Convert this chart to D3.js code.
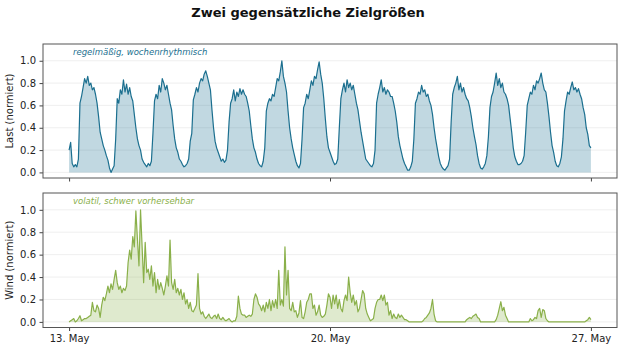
<!DOCTYPE html>
<html><head><meta charset="utf-8">
<script src="https://cdn.jsdelivr.net/npm/d3@7"></script>
<style>body{margin:0;background:#fff}svg{display:block;font-family:"DejaVu Sans",sans-serif}</style>
</head><body><svg id="c" width="624" height="351"></svg>
<script>
const title = "Zwei gegensätzliche Zielgrößen";
const startDate = "2024-05-13T00:00:00";
const xTickDates = ["2024-05-13", "2024-05-20", "2024-05-27"];
const xTickLabels = ["13. May", "20. May", "27. May"];
const yTicks = [0, 0.2, 0.4, 0.6, 0.8, 1.0];
const loadLabel = "Last (normiert)";
const windLabel = "Wind (normiert)";
const loadNote = "regelmäßig, wochenrhythmisch";
const windNote = "volatil, schwer vorhersehbar";

// hourly values, 13 May 00:00 .. 27 May 00:00
const loadValues = [
 0.20,0.27,0.08,0.05,0.07,0.05,0.12,0.62,0.68,0.76,0.84,0.80,0.86,0.78,0.80,0.74,0.76,0.70,0.62,0.50,0.36,0.30,0.24,0.20,
 0.15,0.11,0.04,0.00,0.03,0.06,0.30,0.66,0.62,0.74,0.70,0.83,0.72,0.79,0.70,0.76,0.68,0.64,0.52,0.40,0.30,0.24,0.20,0.12,
 0.09,0.07,0.05,0.08,0.06,0.10,0.35,0.64,0.70,0.66,0.78,0.72,0.84,0.80,0.74,0.78,0.70,0.62,0.56,0.42,0.30,0.22,0.18,0.12,
 0.10,0.07,0.05,0.06,0.08,0.12,0.28,0.35,0.65,0.70,0.76,0.72,0.80,0.84,0.82,0.88,0.91,0.86,0.80,0.74,0.56,0.40,0.28,0.22,
 0.18,0.14,0.10,0.12,0.09,0.11,0.20,0.45,0.62,0.66,0.74,0.64,0.72,0.68,0.75,0.70,0.74,0.70,0.68,0.62,0.55,0.42,0.30,0.22,
 0.18,0.12,0.08,0.06,0.05,0.10,0.22,0.55,0.62,0.66,0.64,0.70,0.68,0.76,0.84,0.82,0.90,1.00,0.86,0.80,0.72,0.55,0.40,0.30,
 0.22,0.16,0.10,0.06,0.04,0.08,0.30,0.58,0.62,0.70,0.66,0.74,0.82,0.78,0.86,0.84,0.92,0.99,0.88,0.80,0.66,0.48,0.32,0.22,
 0.18,0.14,0.10,0.07,0.08,0.12,0.40,0.66,0.74,0.80,0.72,0.83,0.76,0.80,0.74,0.78,0.70,0.62,0.56,0.46,0.36,0.28,0.20,0.12,
 0.10,0.08,0.06,0.05,0.08,0.20,0.62,0.70,0.76,0.83,0.72,0.76,0.70,0.74,0.72,0.68,0.68,0.62,0.55,0.45,0.32,0.24,0.18,0.12,
 0.08,0.05,0.02,0.02,0.05,0.10,0.30,0.62,0.66,0.72,0.70,0.78,0.72,0.74,0.68,0.70,0.64,0.60,0.52,0.40,0.30,0.22,0.14,0.08,
 0.05,0.03,0.02,0.04,0.06,0.12,0.45,0.70,0.76,0.80,0.86,0.74,0.80,0.72,0.76,0.70,0.66,0.64,0.58,0.50,0.40,0.32,0.25,0.15,
 0.08,0.04,0.03,0.05,0.08,0.15,0.32,0.58,0.68,0.72,0.80,0.89,0.78,0.84,0.76,0.80,0.72,0.70,0.66,0.60,0.48,0.36,0.22,0.14,
 0.10,0.07,0.07,0.08,0.10,0.15,0.36,0.60,0.66,0.72,0.70,0.78,0.74,0.82,0.80,0.84,0.89,0.80,0.74,0.72,0.62,0.50,0.36,0.24,
 0.18,0.10,0.06,0.05,0.08,0.14,0.30,0.55,0.64,0.72,0.70,0.76,0.81,0.74,0.76,0.72,0.75,0.70,0.66,0.58,0.52,0.40,0.34,0.24,
 0.22
];
const windValues = [
 0.00,0.01,0.02,0.03,0.00,0.01,0.03,0.055,0.01,0.02,0.03,0.03,0.04,0.05,0.06,0.175,0.10,0.09,0.15,0.12,0.04,0.15,0.22,0.19,
 0.25,0.32,0.26,0.34,0.29,0.38,0.46,0.35,0.29,0.32,0.26,0.30,0.28,0.32,0.53,0.64,0.56,0.76,0.67,0.99,0.74,0.50,1.00,0.68,
 0.35,0.71,0.44,0.47,0.38,0.50,0.32,0.44,0.26,0.38,0.29,0.35,0.30,0.24,0.32,0.41,0.32,0.73,0.35,0.29,0.38,0.26,0.30,0.24,
 0.29,0.20,0.26,0.16,0.20,0.12,0.175,0.10,0.09,0.12,0.15,0.43,0.12,0.07,0.09,0.05,0.03,0.05,0.07,0.04,0.03,0.05,0.06,0.03,
 0.07,0.03,0.02,0.04,0.02,0.01,0.02,0.03,0.01,0.00,0.01,0.01,0.05,0.23,0.12,0.07,0.06,0.06,0.04,0.05,0.06,0.05,0.07,0.20,
 0.25,0.22,0.16,0.14,0.10,0.15,0.09,0.175,0.12,0.20,0.10,0.19,0.13,0.20,0.12,0.46,0.15,0.20,0.14,0.67,0.24,0.46,0.12,0.10,
 0.175,0.09,0.10,0.04,0.08,0.19,0.04,0.03,0.09,0.175,0.20,0.25,0.25,0.12,0.15,0.06,0.09,0.15,0.06,0.04,0.05,0.07,0.15,0.25,
 0.22,0.12,0.24,0.16,0.24,0.12,0.20,0.12,0.09,0.19,0.24,0.19,0.40,0.26,0.175,0.24,0.15,0.19,0.09,0.12,0.20,0.28,0.25,0.12,
 0.07,0.04,0.01,0.02,0.03,0.12,0.175,0.20,0.20,0.24,0.19,0.24,0.15,0.175,0.06,0.10,0.03,0.07,0.04,0.03,0.07,0.04,0.06,0.04,
 0.02,0.02,0.01,0.00,0.00,0.00,0.00,0.00,0.00,0.00,0.00,0.00,0.01,0.03,0.04,0.06,0.08,0.12,0.20,0.07,0.01,0.00,0.00,0.00,
 0.00,0.00,0.00,0.00,0.00,0.00,0.00,0.00,0.00,0.00,0.00,0.00,0.00,0.00,0.00,0.00,0.02,0.03,0.04,0.03,0.05,0.06,0.07,0.04,
 0.03,0.00,0.00,0.00,0.00,0.00,0.00,0.00,0.00,0.00,0.00,0.02,0.06,0.12,0.18,0.10,0.13,0.06,0.03,0.00,0.00,0.00,0.00,0.00,
 0.00,0.00,0.00,0.00,0.00,0.00,0.00,0.00,0.00,0.03,0.01,0.02,0.04,0.03,0.10,0.12,0.04,0.11,0.10,0.03,0.01,0.00,0.00,0.00,
 0.00,0.00,0.00,0.00,0.00,0.00,0.00,0.00,0.00,0.00,0.00,0.00,0.00,0.00,0.00,0.00,0.00,0.00,0.00,0.00,0.00,0.01,0.02,0.04,
 0.02
];

const svg = d3.select("#c");
const t0 = new Date(startDate);
const times = loadValues.map((_, i) => new Date(t0.getTime() + i * 3600e3));
const tEnd = times[times.length - 1];
const pad = (tEnd - t0) * 0.05;
const W = {l: 43, r: 617};
const x = d3.scaleTime().domain([new Date(t0 - pad), new Date(+tEnd + pad)]).range([W.l, W.r]);

svg.append("text").attr("x", 308).attr("y", 17).attr("text-anchor", "middle")
  .attr("font-size", 13).attr("font-weight", "bold").attr("fill", "#111").text(title);

function panel(top, bottom, values, color, label, note, showLabels) {
  const y = d3.scaleLinear().domain([-0.05, 1.15]).range([bottom, top]);
  const g = svg.append("g");
  g.selectAll("line.grid").data(yTicks).join("line")
    .attr("x1", W.l).attr("x2", W.r).attr("y1", d => y(d)).attr("y2", d => y(d))
    .attr("stroke", "#ebebeb").attr("stroke-width", 0.8);
  const data = values.map((v, i) => ({t: times[i], v}));
  g.append("path").datum(data)
    .attr("d", d3.area().x(d => x(d.t)).y0(y(0)).y1(d => y(d.v)))
    .attr("fill", color).attr("fill-opacity", 0.27);
  g.append("path").datum(data)
    .attr("d", d3.line().x(d => x(d.t)).y(d => y(d.v)))
    .attr("fill", "none").attr("stroke", color).attr("stroke-width", 1.2).attr("stroke-linejoin", "round");
  const ya = g.append("g").attr("transform", `translate(${W.l},0)`)
    .call(d3.axisLeft(y).tickValues(yTicks).tickFormat(d3.format(".1f")).tickSize(3.5).tickPadding(3.5));
  ya.select(".domain").remove();
  ya.selectAll("text").attr("font-size", 10).attr("fill", "#222").attr("font-family", "DejaVu Sans");
  ya.selectAll("line").attr("stroke", "#444");
  const xa = g.append("g").attr("transform", `translate(0,${bottom})`)
    .call(d3.axisBottom(x).tickValues(xTickDates.map(d => new Date(d + "T00:00:00")))
      .tickFormat((d, i) => showLabels ? xTickLabels[i] : "").tickSize(3.5).tickPadding(3.5));
  xa.select(".domain").remove();
  xa.selectAll("text").attr("font-size", 10).attr("fill", "#222").attr("font-family", "DejaVu Sans");
  xa.selectAll("line").attr("stroke", "#444");
  g.append("rect").attr("x", W.l).attr("y", top).attr("width", W.r - W.l).attr("height", bottom - top)
    .attr("fill", "none").attr("stroke", "#555").attr("stroke-width", 1);
  g.append("text").attr("transform", `translate(13,${(top + bottom) / 2}) rotate(-90)`)
    .attr("text-anchor", "middle").attr("font-size", 10).attr("fill", "#222").text(label);
  g.append("text").attr("x", 73).attr("y", top + 11).attr("font-size", 8.5)
    .attr("font-style", "italic").attr("fill", color).text(note);
}
panel(44, 178, loadValues, "#1b6f8f", loadLabel, loadNote, false);
panel(193, 327.5, windValues, "#8ab04a", windLabel, windNote, true);
</script></body></html>
